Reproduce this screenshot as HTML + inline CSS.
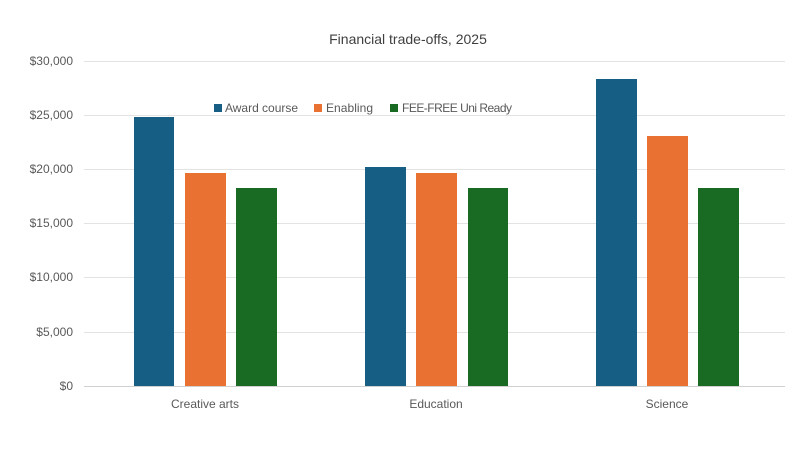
<!DOCTYPE html>
<html><head><style>body{margin:0;background:#fff}svg{display:block}</style></head><body>
<svg width="809" height="455" xmlns="http://www.w3.org/2000/svg" font-family="Liberation Sans, sans-serif">
<rect width="809" height="455" fill="#fff"/>
<text x="408" y="44" text-anchor="middle" font-size="14" fill="#404040">Financial trade-offs, 2025</text>
<g stroke="#e3e3e3" stroke-width="1">
<line x1="84" x2="785" y1="61.5" y2="61.5"/><line x1="84" x2="785" y1="115.5" y2="115.5"/>
<line x1="84" x2="785" y1="169.5" y2="169.5"/><line x1="84" x2="785" y1="223.5" y2="223.5"/>
<line x1="84" x2="785" y1="277.5" y2="277.5"/><line x1="84" x2="785" y1="332.5" y2="332.5"/>
</g>
<line x1="84" x2="785" y1="386.5" y2="386.5" stroke="#d0d0d0"/>
<g font-size="12" fill="#595959" text-anchor="end">
<text x="73" y="65">$30,000</text><text x="73" y="119">$25,000</text><text x="73" y="173">$20,000</text>
<text x="73" y="227">$15,000</text><text x="73" y="281">$10,000</text><text x="73" y="336">$5,000</text><text x="73" y="390">$0</text>
</g>
<g fill="#165e83">
<rect x="134" y="117" width="40" height="269"/><rect x="365" y="167" width="41" height="219"/><rect x="596" y="79" width="41" height="307"/>
</g>
<g fill="#e97132">
<rect x="185" y="173" width="41" height="213"/><rect x="416" y="173" width="41" height="213"/><rect x="647" y="136" width="41" height="250"/>
</g>
<g fill="#196b24">
<rect x="236" y="188" width="41" height="198"/><rect x="468" y="188" width="40" height="198"/><rect x="698" y="188" width="41" height="198"/>
</g>
<g font-size="12" fill="#595959" text-anchor="middle">
<text x="205" y="408">Creative arts</text><text x="436" y="408">Education</text><text x="667" y="408">Science</text>
</g>
<g font-size="12" fill="#595959">
<rect x="214" y="104" width="8" height="8" fill="#165e83"/><text x="225" y="112" textLength="73">Award course</text>
<rect x="314" y="104" width="8" height="8" fill="#e97132"/><text x="326" y="112" textLength="47">Enabling</text>
<rect x="390" y="104" width="8" height="8" fill="#196b24"/><text x="402" y="112" textLength="110">FEE-FREE Uni Ready</text>
</g>
</svg>
</body></html>
